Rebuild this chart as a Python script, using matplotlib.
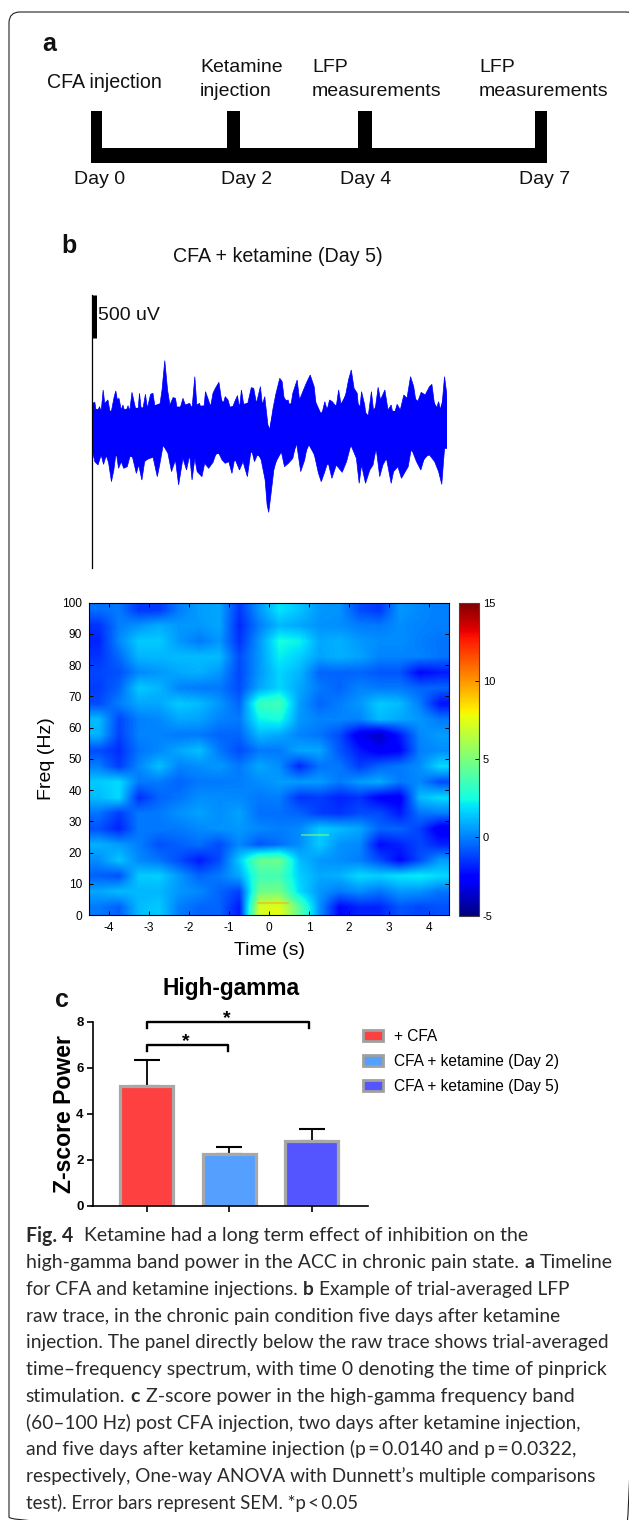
import numpy as np
import matplotlib
matplotlib.use("Agg")
import matplotlib.pyplot as plt
from matplotlib.colors import Normalize
from matplotlib.patches import FancyBboxPatch, Patch

W, H = 629, 1520
plt.rcParams['font.family'] = ['Liberation Sans', 'DejaVu Sans']
plt.rcParams['axes.unicode_minus'] = False

# ---------- panel a
timeline_days = ['Day 0', 'Day 2', 'Day 4', 'Day 7']
timeline_events = ['CFA injection', 'Ketamine\ninjection', 'LFP\nmeasurements', 'LFP\nmeasurements']

# ---------- panel b : trace envelope (seconds, microvolts)
upper_t = [-4.50,-4.48,-4.42,-4.38,-4.30,-4.26,-4.21,-4.17,-4.09,-4.02,-3.93,-3.89,-3.85,-3.81,-3.75,-3.71,-3.65,-3.58,-3.54,-3.48,
           -3.41,-3.34,-3.29,-3.23,-3.14,-3.09,-3.01,-2.95,-2.86,-2.78,-2.72,-2.65,-2.58,-2.52,-2.44,-2.38,-2.31,-2.19,-2.13,-2.02,
           -1.96,-1.89,-1.84,-1.77,-1.68,-1.62,-1.56,-1.49,-1.43,-1.37,-1.28,-1.22,-1.18,-1.12,-1.05,-0.97,-0.88,-0.81,-0.76,-0.71,
           -0.65,-0.55,-0.46,-0.40,-0.33,-0.23,-0.18,-0.12,-0.04,0.00,0.09,0.16,0.26,0.32,0.38,0.47,0.53,0.59,0.70,0.76,
           0.86,0.93,1.03,1.13,1.18,1.24,1.31,1.40,1.46,1.52,1.59,1.69,1.75,1.82,1.93,2.00,2.07,2.14,2.22,2.27,
           2.33,2.41,2.47,2.58,2.65,2.75,2.81,2.92,3.00,3.08,3.14,3.23,3.31,3.40,3.48,3.57,3.65,3.72,3.84,3.94,
           4.05,4.11,4.20,4.28,4.35,4.43,4.49,4.50]
upper_uv = [100,288,300,173,250,192,442,288,327,154,365,431,327,346,211,269,173,261,192,415,
            269,134,404,154,392,230,392,404,134,250,442,781,442,269,354,346,154,346,269,288,
            230,596,269,288,134,423,346,250,404,461,531,346,269,365,327,192,307,377,230,442,
            269,288,469,461,288,481,269,365,38,-39,230,392,577,538,307,327,230,404,557,327,
            442,519,615,481,269,192,134,307,211,327,307,250,442,250,392,557,673,461,404,154,
            423,269,38,423,134,473,327,442,211,269,134,277,211,384,346,596,481,269,415,384,
            481,507,192,307,173,596,384,100]
lower_t = [-4.50,-4.48,-4.42,-4.34,-4.26,-4.20,-4.13,-4.07,-4.00,-3.94,-3.88,-3.82,-3.75,-3.69,-3.60,-3.50,-3.43,-3.37,-3.31,-3.23,
           -3.16,-3.07,-2.95,-2.84,-2.78,-2.69,-2.57,-2.48,-2.38,-2.30,-2.19,-2.10,-2.02,-1.96,-1.89,-1.83,-1.71,-1.64,-1.54,-1.43,
           -1.35,-1.28,-1.20,-1.12,-1.03,-0.95,-0.88,-0.76,-0.67,-0.56,-0.46,-0.38,-0.29,-0.21,-0.11,-0.06,-0.02,0.03,0.11,0.20,
           0.30,0.38,0.48,0.59,0.68,0.79,0.89,0.97,1.10,1.24,1.31,1.40,1.48,1.58,1.69,1.84,1.95,2.06,2.20,2.27,
           2.33,2.43,2.54,2.62,2.70,2.79,2.87,2.96,3.08,3.14,3.25,3.34,3.51,3.59,3.72,3.83,3.93,4.05,4.18,4.28,
           4.36,4.43,4.49,4.50]
lower_uv = [-100,-270,-385,-423,-308,-416,-308,-404,-616,-481,-270,-462,-385,-462,-443,-270,-404,-520,-423,-597,
            -385,-347,-327,-558,-423,-193,-289,-500,-366,-654,-347,-481,-308,-597,-347,-500,-558,-404,-462,-393,
            -289,-289,-366,-404,-385,-520,-347,-481,-385,-558,-231,-385,-289,-366,-597,-885,-970,-789,-481,-327,
            -270,-443,-404,-347,-154,-500,-366,-173,-231,-520,-616,-500,-385,-577,-423,-508,-385,-193,-347,-635,
            -423,-635,-481,-423,-231,-558,-423,-347,-635,-500,-443,-577,-443,-231,-385,-481,-327,-308,-385,-500,
            -647,-231,-231,-100]
# solid body of the trace, under the spikes
body_upper_t = [-4.5,-4.0,-3.5,-3.0,-2.7,-2.4,-2.0,-1.5,-1.3,-1.0,-0.7,-0.4,-0.2,-0.04,0.0,0.1,0.3,0.5,0.8,1.05,1.3,1.5,
                1.8,2.05,2.25,2.5,2.75,3.0,3.3,3.55,3.8,4.1,4.3,4.43,4.5]
body_upper_uv = [230,200,230,250,300,250,250,270,350,250,280,300,250,40,0,220,400,280,350,430,180,250,
                 280,480,280,150,280,200,200,400,300,350,200,400,300]
body_lower_t = [-4.5,-4.2,-3.9,-3.5,-3.2,-2.9,-2.7,-2.4,-2.0,-1.6,-1.3,-1.0,-0.7,-0.45,-0.2,-0.06,0.0,0.1,0.3,0.6,0.7,0.9,1.0,
                1.3,1.6,1.9,2.06,2.3,2.7,3.0,3.3,3.6,3.85,4.05,4.35,4.43,4.5]
body_lower_uv = [-250,-340,-320,-330,-380,-330,-200,-340,-340,-380,-290,-380,-370,-280,-340,-700,-800,-450,-280,-300,-180,-300,-200,
                 -450,-400,-380,-200,-350,-260,-380,-420,-260,-400,-290,-450,-230,-230]

# ---------- panel b : time-frequency map, rows from 100 Hz down to 0 Hz, columns from -4.5 s to 4.5 s
spectrum = [
 [-0.3,-0.1,-1.4,-1.4, 0.0, 0.6, 0.8,-1.4, 0.5, 2.0, 1.4, 0.5, 0.4,-1.0,-1.4, 0.5, 0.2, 0.0],
 [-1.5, 0.0, 0.4, 0.9, 0.5, 0.5, 0.8,-1.7, 0.0, 1.1, 0.8, 0.4, 0.3, 0.0,-0.1, 0.3, 0.1, 0.0],
 [-1.8, 0.2, 1.5, 1.5, 0.5,-0.1, 0.5,-1.5, 0.5, 2.6, 2.3, 0.8, 1.0, 0.5, 0.3, 0.3, 0.0,-0.2],
 [-1.5,-0.4, 1.1, 1.1, 1.2, 1.2, 1.2,-1.0, 0.5, 2.2, 1.6, 0.7, 1.0, 0.7, 0.1, 0.1, 0.1,-0.2],
 [-1.1,-0.9, 0.2, 0.5, 0.8, 1.0, 0.5,-1.1, 0.5, 1.7, 1.1,-0.5,-0.5,-0.5,-0.8,-0.8,-2.4,-2.0],
 [-1.3,-0.5, 1.5, 1.1, 0.1,-0.1,-0.1,-1.0, 0.8, 1.7, 0.8,-0.1,-0.5, 0.1,-0.1,-0.1,-0.5,-0.5],
 [-1.0, 0.0, 0.8, 0.8, 1.5, 1.2, 0.5,-0.5, 3.3, 3.6, 0.6,-0.5, 0.0, 0.5, 1.5, 1.2, 0.0,-2.2],
 [ 1.2,-1.1, 0.0, 0.2, 0.8, 0.7, 0.1,-0.1, 2.3, 2.6, 0.5, 0.1, 0.1, 0.1, 1.2, 0.8, 0.5,-0.1],
 [ 1.0,-1.2, 0.1, 0.1,-0.1,-0.1,-0.5,-0.5, 1.1, 0.8, 0.1,-0.2,-1.0,-3.0,-3.8,-2.0, 0.2, 0.6],
 [-1.0,-1.6,-0.2, 0.2, 0.8, 1.3,-0.1,-1.0,-0.1,-0.1, 0.8, 0.8,-0.8,-2.0,-2.8,-2.5, 0.0, 0.3],
 [ 0.0,-1.3, 0.2, 1.3, 0.1, 0.3, 0.5,-0.1, 0.8, 0.3,-1.7,-0.2,-0.1,-1.3,-0.5,-0.1, 0.3, 1.8],
 [ 1.5, 1.8,-0.1,-0.1,-0.5,-0.1,-0.1, 0.0, 0.3, 0.6, 0.6, 0.6,-0.1, 0.6, 0.9,-0.1, 0.2,-1.0],
 [ 1.2, 1.8,-1.6,-0.5,-0.2, 0.3, 0.3, 0.2,-0.1, 0.0,-1.5,-1.3,-1.8,-1.5,-2.6,-2.8, 1.2, 1.8],
 [-0.2,-1.3,-0.1,-0.1, 0.4, 0.7, 0.3, 0.7,-0.3,-0.3,-0.5,-1.3,-1.5,-1.0,-1.0,-2.0,-0.2, 0.0],
 [-0.9,-1.8,-0.1,-0.1,-0.1, 0.2, 0.4, 0.5, 0.2, 0.0, 0.2, 1.5, 1.2, 0.8,-0.5,-0.5,-1.2,-3.0],
 [ 1.0, 0.6, 0.0,-0.9,-0.6,-0.3,-1.0, 0.2,-0.8,-0.3, 0.3, 1.5, 0.4, 0.2,-2.3,-1.8,-1.1,-1.8],
 [ 0.3, 1.4, 0.2,-0.2,-1.0,-2.0,-1.0, 1.5, 4.5, 4.6, 1.2, 0.5, 0.3, 0.0,-1.0,-2.4,-1.0, 0.6],
 [-0.6,-0.9, 1.5, 1.6, 0.5,-0.5,-0.1, 0.8, 3.6, 3.6, 1.6, 0.8, 1.0, 1.8, 1.6, 2.0, 2.2, 1.8],
 [ 0.8, 1.2, 1.1, 1.1, 0.5, 0.2,-0.5,-1.2, 4.6, 4.8, 1.8, 0.5,-0.1, 0.3,-0.2, 0.5, 0.4,-0.2],
 [-0.1,-0.6, 1.2, 1.5, 0.0,-0.5,-0.5,-2.0, 7.2, 7.5, 4.2, 0.4,-2.4,-1.8,-1.8,-0.8,-1.1,-0.9],
]
hot_times = [[0.8, 1.5], [-0.3, 0.5]]
hot_freqs = [25.5, 3.8]
hot_values = [5.0, 9.5]

# ---------- panel c
groups = ['+ CFA', 'CFA + ketamine (Day 2)', 'CFA + ketamine (Day 5)']
zscore = [5.2, 2.25, 2.8]
sem = [1.13, 0.32, 0.55]
bar_colors = ['#FF4040', '#55A0FF', '#5555FF']

caption = [
 [('Fig. 4', True), ('Ketamine had a long term effect of inhibition on the', False)],
 [('high-gamma band power in the ACC in chronic pain state.', False), ('a', True), ('Timeline', False)],
 [('for CFA and ketamine injections.', False), ('b', True), ('Example of trial-averaged LFP', False)],
 [('raw trace, in the chronic pain condition five days after ketamine', False)],
 [('injection. The panel directly below the raw trace shows trial-averaged', False)],
 [('time\u2013frequency spectrum, with time 0 denoting the time of pinprick', False)],
 [('stimulation.', False), ('c', True), ('Z-score power in the high-gamma frequency band', False)],
 [('(60\u2013100 Hz) post CFA injection, two days after ketamine injection,', False)],
 [('and five days after ketamine injection (p\u2009=\u20090.0140 and p\u2009=\u20090.0322,', False)],
 [('respectively, One-way ANOVA with Dunnett\u2019s multiple comparisons', False)],
 [('test). Error bars represent SEM. *p\u2009<\u20090.05', False)],
]

fig = plt.figure(figsize=(W / 100, H / 100), dpi=100, facecolor='white')

def px_axes(l, t, r, b, **kw):
    return fig.add_axes([l / W, 1 - b / H, (r - l) / W, (b - t) / H], **kw)

# page overlay in pixel coordinates
page = px_axes(0, 0, W, H)
page.set_xlim(0, W); page.set_ylim(H, 0); page.axis('off')
page.add_patch(FancyBboxPatch((9, 12), 628, 1516, boxstyle='round,pad=0,rounding_size=11',
                              fc='none', ec='#222222', lw=0.8))
for s, x, y in [('a', 42, 44), ('b', 61, 246), ('c', 55, 1000)]:
    page.text(x, y, s, fontsize=18, fontweight='bold', va='center', color='#111111')

# timeline
tick_left = [90.8, 227, 358, 535]
tick_right = [102, 240, 372, 546.6]
for l, r in zip(tick_left, tick_right):
    page.fill_between([l, r], 111, 160, color='black', lw=0)
page.fill_between([90.8, 546.6], 148, 162.7, color='black', lw=0)
for s, x in zip(timeline_days, [73.5, 221, 340, 519]):
    page.text(x, 180, s, fontsize=14, va='center', color='#111111')
page.text(47, 83, timeline_events[0], fontsize=14.1, va='center', color='#111111')
for ev, x in zip(timeline_events[1:], [200, 312, 479]):
    a, b = ev.split('\n')
    page.text(x, 68, a, fontsize=14, va='center', color='#111111')
    page.text(x, 92, b, fontsize=14, va='center', color='#111111')
page.text(173, 257, 'CFA + ketamine (Day 5)', fontsize=14.1, va='center', color='#111111')

# trace
tr = px_axes(91.7, 295, 447.3, 568)
tr.set_xlim(-4.5, 4.5); tr.set_ylim(-1612, 1538)
tr.patch.set_alpha(0)
tr.fill(list(upper_t) + list(lower_t)[::-1], list(upper_uv) + list(lower_uv)[::-1], color='#0000FF', lw=0.5)
tr.fill(list(body_upper_t) + list(body_lower_t)[::-1], list(body_upper_uv) + list(body_lower_uv)[::-1],
        color='#0000FF', lw=0)
for sp in ['top', 'right', 'bottom']:
    tr.spines[sp].set_visible(False)
tr.spines['left'].set_linewidth(0.9)
tr.set_xticks([]); tr.set_yticks([])
tr.vlines(-4.44, 1038, 1538, color='black', lw=3.6)
tr.text(-4.33, 1296, '500 uV', fontsize=14, va='center', color='#111111')

# spectrum
cmap = plt.get_cmap('jet')
norm = Normalize(-5, 15)
sp_ax = px_axes(89, 602.7, 449.3, 915)
im = sp_ax.imshow(np.array(spectrum), cmap=cmap, norm=norm, aspect='auto',
                  extent=[-4.5, 4.5, 0, 100], interpolation='bilinear')
for ts, f, v in zip(hot_times, hot_freqs, hot_values):
    sp_ax.plot(ts, [f, f], color=cmap(norm(v)), lw=1.5, solid_capstyle='butt', alpha=0.55)
sp_ax.set_xlim(-4.5, 4.5); sp_ax.set_ylim(0, 100)
sp_ax.set_xticks(range(-4, 5)); sp_ax.set_yticks(range(0, 101, 10))
sp_ax.tick_params(direction='in', length=3, width=0.7, top=True, right=True, labelsize=8.6, pad=5)
sp_ax.set_xlabel('Time (s)', fontsize=14, labelpad=6)
sp_ax.set_ylabel('Freq (Hz)', fontsize=14, labelpad=5)
for sp in sp_ax.spines.values():
    sp.set_linewidth(0.8)

cax = px_axes(458.7, 602.7, 478.7, 915.7)
cb = fig.colorbar(im, cax=cax)
cb.set_ticks([-5, 0, 5, 10, 15])
cb.ax.tick_params(direction='in', length=3, width=0.7, labelsize=8, pad=3)
cb.outline.set_edgecolor('#444444'); cb.outline.set_linewidth(0.8)

# bars
bx = px_axes(92.5, 1022, 367.5, 1205.5)
x = np.arange(len(zscore))
bx.set_xlim(-0.66, 2.68); bx.set_ylim(0, 8)
bx.patch.set_alpha(0)
bx.bar(x, zscore, width=0.64, color=bar_colors, edgecolor='#A8A8A8', linewidth=2.3, zorder=2)
bx.errorbar(x, zscore, yerr=[np.zeros(3), sem], fmt='none', ecolor='black', elinewidth=1.3,
            capsize=9.5, capthick=1.5, zorder=1)
for sp in ['top', 'right']:
    bx.spines[sp].set_visible(False)
bx.spines['left'].set_linewidth(1.2); bx.spines['bottom'].set_linewidth(1.2)
bx.set_xticks(x); bx.set_xticklabels([])
bx.set_yticks(range(0, 9, 2))
bx.set_yticklabels(range(0, 9, 2), fontweight='bold', fontsize=9.5)
bx.tick_params(length=4.5, width=1.2, pad=2)
bx.set_ylabel('Z-score Power', fontsize=16.6, fontweight='bold', labelpad=0)
for y0, i, j, sx in [(8.0, 0, 1.97, 0.97), (7.0, 0, 0.99, 0.47)]:
    bx.plot([i, i, j, j], [y0 - 0.27, y0, y0, y0 - 0.27], color='black', lw=1.7, clip_on=False)
    bx.text(sx, y0 + 0.15, '*', fontsize=14, fontweight='bold', ha='center', va='center', clip_on=False)
page.text(231, 989, 'High-gamma', fontsize=16.4, fontweight='bold', ha='center', va='center')
handles = [Patch(fc=c, ec='#A0A0A0', lw=2) for c in bar_colors]
fig.legend(handles, groups, loc='upper left', bbox_to_anchor=(363 / W, 1 - 1029 / H), frameon=False,
           fontsize=11.2, handlelength=1.3, handleheight=0.7, handletextpad=0.68, labelspacing=0.64,
           borderpad=0, borderaxespad=0)

# caption: each line is fitted to the width it has in the reference
line_ends = [530, 613, 570, 564, 613, 608, 575, 581, 578, 598, 359]
fig.canvas.draw()
rend = fig.canvas.get_renderer()

def draw_line(line, y, size):
    cx = 25.7
    made = []
    for k, (s, bold) in enumerate(line):
        t = page.text(cx, y, s, family=['Lato', 'DejaVu Sans'], fontsize=size, va='center',
                      fontweight='bold' if bold else 'normal', color='#2a2a2a')
        made.append(t)
        cx = t.get_window_extent(rend).x1 + (11 if s == 'Fig. 4' else 5.5)
    end = made[-1].get_window_extent(rend).x1
    return made, end

y = 1236
for line, end_px in zip(caption, line_ends):
    made, end = draw_line(line, y, 14)
    for t in made:
        t.remove()
    draw_line(line, y, 14 * (end_px - 25.7) / (end - 25.7))
    y += 26.67

fig.savefig('out.png', dpi=100, facecolor='white')
